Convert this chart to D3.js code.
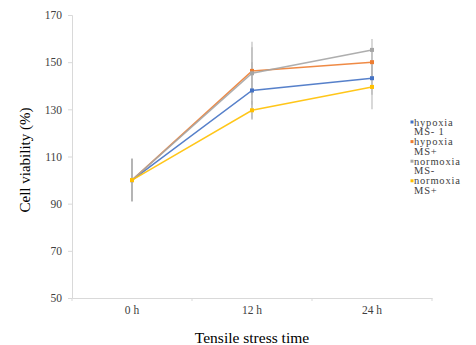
<!DOCTYPE html>
<html>
<head>
<meta charset="utf-8">
<script src="https://cdn.jsdelivr.net/npm/d3@7"></script>
<style>
  body { margin: 0; background: #fff; }
  svg { display: block; font-family: "Liberation Serif", "DejaVu Serif", serif; }
</style>
</head>
<body>
<div id="chart"></div>
<script>
// data
let times = ["0 h", "12 h", "24 h"];
let seriesNames = [["hypoxia", "MS- 1"], ["hypoxia", "MS+"], ["normoxia", "MS-"], ["normoxia", "MS+"]];
let hypoxiaMinus = [100, 138, 143.2];
let hypoxiaPlus = [100, 146.3, 150];
let normoxiaMinus = [100, 145.3, 155.2];
let normoxiaPlus = [100, 129.6, 139.5];
let errHypoxiaMinus = [9, 12, 7];
let errHypoxiaPlus = [9, 10, 6];
let errNormoxiaMinus = [9, 13.4, 4.6];
let errNormoxiaPlus = [9, 4, 9.5];
let yTicks = [50, 70, 90, 110, 130, 150, 170];
let colors = ["#4472C4", "#ED7D31", "#A5A5A5", "#FFC000"];

let svgWidth = 476;
let svgHeight = 345;
let padLeft = 72, padRight = 432, padTop = 15, padBottom = 298;

let series = [hypoxiaMinus, hypoxiaPlus, normoxiaMinus, normoxiaPlus];
let errs = [errHypoxiaMinus, errHypoxiaPlus, errNormoxiaMinus, errNormoxiaPlus];

let xScale = d3.scaleBand().domain(times).range([padLeft, padRight]);
let yScale = d3.scaleLinear().domain([50, 170]).range([padBottom, padTop]);
let xc = t => xScale(t) + xScale.bandwidth() / 2;

let svg = d3.select("#chart").append("svg")
  .attr("width", svgWidth)
  .attr("height", svgHeight);

// y axis
let yAxis = d3.axisLeft(yScale).tickValues(yTicks).tickSize(4).tickPadding(6);
let gy = svg.append("g").attr("transform", `translate(${padLeft},0)`).call(yAxis);
gy.select(".domain").attr("stroke", "#d9d9d9");
gy.selectAll(".tick line").attr("stroke", "#d9d9d9");
gy.selectAll(".tick text").attr("fill", "#404040").style("font-size", "11.5px")
  .style("font-family", "Liberation Serif, serif");

// x axis, ticks on category boundaries
let xAxis = d3.axisBottom(xScale).tickSize(0).tickPadding(8);
let gx = svg.append("g").attr("transform", `translate(0,${padBottom})`).call(xAxis);
gx.select(".domain").attr("stroke", "#d9d9d9");
gx.selectAll(".tick text").attr("fill", "#404040").style("font-size", "11.5px")
  .style("font-family", "Liberation Serif, serif");
gx.selectAll(".bound")
  .data(times.concat(["end"]))
  .enter()
  .append("line")
  .attr("x1", (d, i) => padLeft + i * xScale.bandwidth())
  .attr("x2", (d, i) => padLeft + i * xScale.bandwidth())
  .attr("y1", 0).attr("y2", 3)
  .attr("stroke", "#d9d9d9");

// axis titles
svg.append("text")
  .attr("transform", "translate(30,160) rotate(-90)")
  .attr("text-anchor", "middle")
  .style("font-size", "15px")
  .attr("fill", "#000")
  .text("Cell viability (%)");

svg.append("text")
  .attr("x", 252).attr("y", 343)
  .attr("text-anchor", "middle")
  .style("font-size", "15.5px")
  .attr("fill", "#000")
  .text("Tensile stress time");

// error bars
series.forEach(function(s, k) {
  let g = svg.append("g");
  g.selectAll("line.err")
    .data(s)
    .enter()
    .append("line")
    .attr("x1", (d, i) => xc(times[i]))
    .attr("x2", (d, i) => xc(times[i]))
    .attr("y1", (d, i) => yScale(d - errs[k][i]))
    .attr("y2", (d, i) => yScale(d + errs[k][i]))
    .attr("stroke", "#b0b0b0")
    .attr("stroke-width", 1.2)
    .attr("opacity", 0.8);
});

// lines and markers
let line = d3.line().x((d, i) => xc(times[i])).y(d => yScale(d));
series.forEach(function(s, k) {
  svg.append("path")
    .datum(s)
    .attr("d", line)
    .attr("fill", "none")
    .attr("stroke", colors[k])
    .attr("stroke-width", 1.5)
    .attr("opacity", 0.9);
  svg.selectAll(".m" + k)
    .data(s)
    .enter()
    .append("rect")
    .attr("x", (d, i) => xc(times[i]) - 2)
    .attr("y", d => yScale(d) - 2)
    .attr("width", 4).attr("height", 4)
    .attr("fill", colors[k]);
});

// legend
let legend = svg.append("g").attr("transform", "translate(412,122)");
seriesNames.forEach(function(n, k) {
  let g = legend.append("g").attr("transform", `translate(0,${k * 19.6})`);
  g.append("rect").attr("x", -1.5).attr("y", -1.5).attr("width", 3).attr("height", 3).attr("fill", colors[k]);
  g.append("text").attr("x", 2).attr("y", 3.5).style("font-size", "10.5px")
    .style("letter-spacing", "0.8px").attr("fill", "#404040").text(n[0]);
  g.append("text").attr("x", 2).attr("y", 13.3).style("font-size", "10.5px")
    .style("letter-spacing", "0.8px").attr("fill", "#404040").text(n[1]);
});
</script>
</body>
</html>
